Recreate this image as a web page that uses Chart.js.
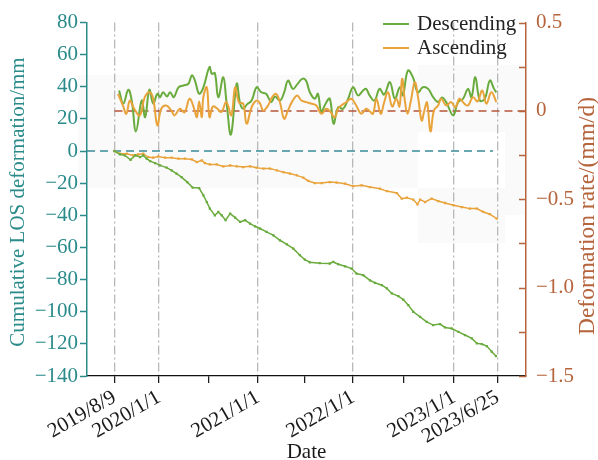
<!DOCTYPE html>
<html>
<head>
<meta charset="utf-8">
<script src="https://cdn.jsdelivr.net/npm/chart.js@4.4.1/dist/chart.umd.min.js"></script>
<style>
  body { margin: 0; background: #fff; }
</style>
</head>
<body>
<canvas id="grafico" width="598" height="460"></canvas>
<script>
// x = position along the observation span (0 = 2019/8/9, 100 = 2023/6/25)
const xTickLabels = ['2019/8/9', '2020/1/1', '2021/1/1', '2022/1/1', '2023/1/1', '2023/6/25'];
const xTickPos = [0, 11.62, 37.47, 62.27, 88.64, 100];
const xMinorPos = [24.57, 49.63, 75.54];
const xMin = -7.18, xMax = 107.44;

// deformation rate (mm/d), right axis
const descRate = [[1.2,0.116],[2.3,0.042],[3.6,0.120],[4.5,0.059],[5.6,-0.116],[7.1,0.059],[8.0,-0.035],[9.1,0.120],[10.1,0.042],[11.2,0.097],[11.9,0.078],[12.7,0.106],[13.7,0.082],[14.5,0.106],[15.5,0.078],[16.7,0.134],[18.0,0.144],[19.3,0.154],[20.2,0.201],[21.0,0.172],[22.1,0.097],[23.2,0.134],[24.8,0.249],[25.4,0.210],[26.2,0.214],[27.1,0.078],[28.4,0.191],[29.2,0.059],[30.4,-0.133],[31.9,0.154],[32.8,0.042],[33.6,0.012],[34.6,0.037],[35.8,0.059],[37.1,0.134],[38.3,0.106],[39.6,0.097],[40.9,0.050],[41.9,0.082],[43.2,0.059],[44.3,0.105],[45.3,0.172],[46.6,0.125],[47.7,0.150],[49.0,0.182],[50.0,0.172],[51.0,0.106],[52.3,0.069],[53.1,0.097],[54.0,-0.007],[55.0,0.037],[56.2,0.069],[57.2,-0.072],[58.4,0.021],[59.7,0.012],[61.0,0.069],[62.3,0.134],[63.6,0.088],[64.9,0.116],[65.7,0.125],[66.6,0.088],[67.9,0.059],[69.2,0.125],[70.4,0.093],[71.9,0.163],[73.2,0.069],[74.5,0.134],[75.3,0.088],[76.6,0.229],[77.9,0.191],[79.2,0.106],[80.5,0.134],[81.9,0.125],[83.2,0.078],[84.5,0.050],[85.5,0.076],[86.6,0.050],[88.4,-0.025],[89.7,0.050],[91.0,0.069],[92.3,0.125],[93.2,0.078],[94.2,0.191],[95.4,0.059],[96.7,0.069],[98.0,0.172],[99.1,0.125],[99.7,0.105]];
const ascRate = [[0.9,0.097],[2.2,0.031],[3.1,-0.016],[4.0,0.059],[5.1,0.014],[6.6,-0.025],[7.9,0.078],[9.2,0.106],[10.1,0.069],[11.2,-0.082],[12.2,0.012],[13.5,0.031],[14.8,0.003],[15.7,-0.025],[17.0,0.012],[18.3,-0.007],[19.6,0.069],[20.8,0.012],[21.5,-0.035],[22.1,0.054],[22.8,-0.035],[23.2,0.078],[24.1,0.134],[24.8,-0.035],[25.7,0.025],[26.8,0.014],[27.9,-0.006],[29.2,0.050],[30.5,-0.025],[31.5,0.134],[32.5,0.048],[33.6,0.041],[34.5,-0.072],[35.8,0.021],[37.1,0.059],[38.0,0.042],[38.8,0.003],[40.1,0.031],[41.1,0.076],[42.2,0.097],[43.2,0.048],[44.3,-0.044],[45.3,0.003],[46.3,0.050],[47.7,0.088],[48.8,0.059],[50.1,0.050],[51.3,0.042],[52.7,0.031],[54.0,-0.016],[55.3,0.012],[56.3,-0.003],[57.5,-0.035],[58.4,0.014],[59.2,0.031],[60.4,0.048],[61.8,0.069],[63.1,0.031],[64.4,-0.016],[65.7,0.012],[66.7,-0.003],[67.5,-0.016],[68.4,0.069],[69.5,-0.016],[70.4,0.048],[71.4,0.106],[72.5,0.025],[73.6,0.069],[74.4,0.025],[75.1,0.182],[75.8,0.059],[76.5,-0.016],[77.4,0.059],[78.4,0.163],[79.3,0.071],[80.2,-0.054],[80.9,0.003],[81.6,0.048],[82.5,-0.116],[83.4,0.003],[84.5,0.031],[85.3,0.069],[86.6,0.031],[87.9,0.050],[89.0,0.020],[90.1,0.069],[91.3,0.042],[92.3,0.031],[93.6,0.078],[94.8,0.054],[96.0,0.116],[97.1,0.041],[98.4,0.106],[99.7,0.050]];

// cumulative LOS deformation (mm), left axis
const descCum = [[0,0],[1.4,-2],[2.7,-2.7],[4.2,-5.4],[5.4,-2.7],[6.7,-3.7],[7.5,-2.7],[8.4,-4.7],[9.3,-6.2],[10.6,-7.5],[11.9,-8.9],[13.6,-10.3],[14.9,-12],[16.2,-14],[17.5,-16.2],[19.0,-19.3],[20.4,-22.7],[22.1,-23],[23.2,-27.5],[24.1,-31.7],[24.9,-35.8],[26.2,-40],[27.1,-37.9],[28.0,-40],[29.0,-43],[30.2,-38.9],[31.5,-41.4],[32.8,-44.1],[34.1,-43],[35.4,-45.1],[36.7,-46.8],[38.0,-48.2],[39.7,-50.3],[41.5,-52.4],[43.2,-55.5],[45.0,-58],[46.7,-60.7],[48.4,-64.8],[49.7,-67.5],[51.0,-69.2],[53.6,-69.8],[56.2,-70],[57.1,-69],[58.4,-70.4],[60.2,-71.7],[61.9,-73.1],[63.2,-76.2],[65.0,-77.3],[66.7,-80.4],[68.0,-82],[69.8,-83.5],[71.1,-85.5],[72.4,-88.6],[74.1,-90.3],[75.4,-92.4],[76.7,-95.9],[78.0,-100],[79.8,-103.2],[81.5,-106.3],[83.2,-108.3],[85.0,-107.7],[86.3,-109.8],[88.0,-110.4],[89.8,-112.5],[91.5,-114.5],[93.3,-116.6],[94.6,-119.7],[95.9,-120.1],[97.2,-121.4],[98.5,-124.9],[99.6,-127.6]];
const ascCum = [[0,0],[1.4,-1.6],[3.2,-1.6],[4.9,-2.7],[6.2,-2.1],[7.5,-1.6],[8.8,-3.7],[10.1,-4.1],[11.4,-3.3],[13.2,-4.1],[14.9,-4.1],[16.7,-4.7],[18.4,-4.7],[20.2,-5.2],[21.5,-6.8],[22.8,-5.8],[23.6,-7.5],[24.9,-8.3],[26.7,-8.3],[28.4,-9.5],[30.2,-8.9],[31.9,-9.5],[33.6,-9.9],[35.4,-9.5],[37.1,-10.3],[38.9,-10.9],[40.6,-10.9],[42.4,-12],[44.1,-13.1],[45.8,-14],[47.6,-15.1],[49.3,-16.5],[50.6,-18.6],[52.3,-19.9],[54.1,-19.9],[56.2,-19.3],[58.0,-19.6],[60.2,-20.3],[62.3,-21.8],[64.5,-21.3],[66.7,-22.4],[69.3,-23.4],[71.1,-24.9],[73.7,-26.1],[75.0,-29.6],[76.3,-29],[78.0,-30.2],[79.1,-33.1],[79.8,-30.2],[81.1,-31.7],[82.8,-29.6],[84.5,-31.1],[86.3,-32.3],[88.5,-33.7],[90.7,-34.8],[92.8,-35.8],[94.6,-35.8],[96.3,-37.9],[98.0,-39.3],[99.8,-42]];

const legendLabels = ['Descending', 'Ascending'];

const teal = '#2b8b8b';
const brown = '#b5643c';
const green = '#6aab3e';
const orange = '#e9a33b';
const serif = 'Liberation Serif';

Chart.defaults.font.family = serif;

const toXY = arr => arr.map(p => ({ x: p[0], y: p[1] }));
const minus = s => String(s).replace('-', '\u2212');

const extras = {
    id: 'extras',
    beforeDraw(chart) {
        // faint grey panels seen behind the plot in the original figure
        const ctx = chart.ctx;
        ctx.save();
        ctx.fillStyle = '#fafafa';
        ctx.fillRect(78, 75, 340, 113);
        ctx.fillRect(418, 65, 87, 67);
        ctx.fillRect(505, 65, 21, 150);
        ctx.fillRect(418, 188, 87, 55);
        ctx.restore();
    },
    afterDraw(chart) {
        const ctx = chart.ctx;
        const r = chart.scales.y1;
        const area = chart.chartArea;
        ctx.save();
        // inward ticks on the rate axis
        ctx.strokeStyle = brown;
        ctx.lineWidth = 1.5;
        r.ticks.forEach(t => {
            const y = Math.round(r.getPixelForValue(t.value)) + 0.5;
            ctx.beginPath();
            ctx.moveTo(area.right - 7, y);
            ctx.lineTo(area.right, y);
            ctx.stroke();
        });
        ctx.restore();

        // axis titles, both reading upward
        const vTitle = (text, color, size, x, y) => {
            ctx.save();
            ctx.fillStyle = color;
            ctx.font = size + 'px "' + serif + '"';
            ctx.textAlign = 'center';
            ctx.textBaseline = 'middle';
            ctx.translate(x, y);
            ctx.rotate(-Math.PI / 2);
            ctx.fillText(text, 0, 0);
            ctx.restore();
        };
        vTitle('Cumulative LOS deformation/mm', teal, 21, 18, 202);
        vTitle('Deformation rate/(mm/d)', brown, 23.5, 588, 216);

        // legend
        ctx.save();
        ctx.font = '21px "' + serif + '"';
        ctx.textBaseline = 'middle';
        ctx.fillStyle = '#222';
        [green, orange].forEach((c, i) => {
            const y = 24 + i * 24;
            ctx.strokeStyle = c;
            ctx.lineWidth = 2;
            ctx.beginPath();
            ctx.moveTo(383, y);
            ctx.lineTo(409, y);
            ctx.stroke();
            ctx.fillText(legendLabels[i], 417, y);
        });
        ctx.restore();
    }
};

new Chart(document.getElementById('grafico'), {
    type: 'line',
    data: {
        datasets: [
            {
                label: 'Descending cumulative', data: toXY(descCum), yAxisID: 'y',
                borderColor: green, backgroundColor: green, borderWidth: 1.5,
                pointRadius: 1.6, pointStyle: 'rect', pointBorderWidth: 0, tension: 0
            },
            {
                label: 'Ascending cumulative', data: toXY(ascCum), yAxisID: 'y',
                borderColor: orange, backgroundColor: orange, borderWidth: 1.5,
                pointRadius: 1.6, pointStyle: 'rect', pointBorderWidth: 0, tension: 0
            },
            {
                label: 'Ascending rate', data: toXY(ascRate), yAxisID: 'y1',
                borderColor: orange, borderWidth: 2, pointRadius: 0, tension: 0.4
            },
            {
                label: 'Descending rate', data: toXY(descRate), yAxisID: 'y1',
                borderColor: green, borderWidth: 2, pointRadius: 0, tension: 0.4
            },
            {
                label: 'zero cumulative', data: [{ x: xMin, y: 0 }, { x: 98.8, y: 0 }], yAxisID: 'y',
                borderColor: '#3a8c98', borderWidth: 1.5, borderDash: [8, 5], pointRadius: 0
            },
            {
                label: 'zero rate', data: [{ x: 0, y: 0 }, { x: xMax, y: 0 }], yAxisID: 'y1',
                borderColor: '#b5553a', borderWidth: 1.5, borderDash: [8, 5], pointRadius: 0
            }
        ]
    },
    options: {
        responsive: false,
        animation: false,
        devicePixelRatio: 1,
        layout: { padding: { top: 22, left: 0, right: 0, bottom: 0 } },
        plugins: { legend: { display: false }, tooltip: { enabled: false } },
        scales: {
            x: {
                type: 'linear',
                min: xMin,
                max: xMax,
                afterBuildTicks: s => {
                    s.ticks = xTickPos.concat(xMinorPos).sort((a, b) => a - b).map(v => ({ value: v }));
                },
                afterFit: s => { s.height = 84; },
                ticks: {
                    autoSkip: false,
                    minRotation: 30,
                    maxRotation: 30,
                    color: '#1a1a1a',
                    font: { size: 21 },
                    padding: 2,
                    callback: v => {
                        const i = xTickPos.indexOf(v);
                        return i >= 0 ? xTickLabels[i] : '';
                    }
                },
                grid: {
                    color: c => (c.tick && xTickPos.includes(c.tick.value)) ? '#b8b8b8' : 'rgba(0,0,0,0)',
                    lineWidth: 1.3,
                    tickColor: '#111',
                    tickLength: 7,
                    tickWidth: 1.2
                },
                border: { color: '#111', width: 1.3, dash: [9, 3, 2, 3] },
                title: {
                    display: true, text: 'Date', color: '#1a1a1a',
                    font: { size: 21 }, padding: { top: 0, bottom: -5 }
                }
            },
            y: {
                position: 'left',
                min: -140,
                max: 80,
                afterFit: s => { s.width = 87; },
                ticks: {
                    stepSize: 20, color: teal, font: { size: 21 }, padding: 2,
                    callback: v => minus(v)
                },
                grid: { drawOnChartArea: false, tickColor: teal, tickLength: 7, tickWidth: 1.5 },
                border: { color: teal, width: 1.5 }
            },
            y1: {
                position: 'right',
                min: -1.5,
                max: 0.5,
                afterFit: s => { s.width = 72; },
                ticks: {
                    stepSize: 0.25, color: brown, font: { size: 21 }, padding: 10,
                    callback: v => {
                        if (Math.abs(v * 2 - Math.round(v * 2)) > 1e-6) return '';
                        return v === 0 ? '0' : minus(v.toFixed(1));
                    }
                },
                grid: { drawOnChartArea: false, drawTicks: false },
                border: { color: brown, width: 1.5 }
            }
        }
    },
    plugins: [extras]
});
</script>
</body>
</html>
